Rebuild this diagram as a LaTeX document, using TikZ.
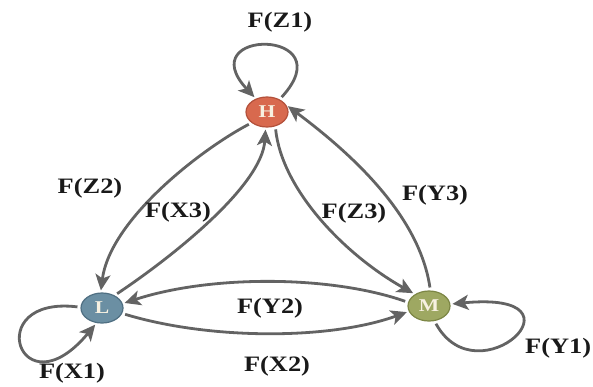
\documentclass[tikz,border=0pt]{standalone}
\usepackage{fontspec}
\setmainfont{Liberation Serif}
\usetikzlibrary{shapes.geometric,arrows.meta}

\definecolor{edgegray}{HTML}{636363}
\definecolor{hfill}{HTML}{D8694E}
\definecolor{hdraw}{HTML}{B3503A}
\definecolor{lfill}{HTML}{6B8FA3}
\definecolor{ldraw}{HTML}{4F6F82}
\definecolor{mfill}{HTML}{9EA862}
\definecolor{mdraw}{HTML}{7C8645}
\definecolor{letter}{HTML}{F7F1E1}

\newcommand{\lbl}[1]{\scalebox{1.2}[1]{\fontsize{22}{22}\selectfont\bfseries #1}}
\newcommand{\ltr}[1]{\scalebox{1.2}[1]{\fontsize{18}{18}\selectfont\bfseries #1}}

\tikzset{
  state/.style={ellipse, minimum width=42pt, minimum height=30pt, inner sep=0pt,
    line width=1.2pt, text=letter},
  flow/.style={draw=edgegray, line width=2.8pt,
    -{Stealth[length=16pt,width=15pt,inset=4pt]}, shorten >=2pt, shorten <=3pt},
  flowlabel/.style={inner sep=0pt, text=black!90}
}

\begin{document}
\begin{tikzpicture}[x=1pt,y=-1pt]
  \useasboundingbox (0,0) rectangle (593,386);

  % states
  \node[state, fill=hfill, draw=hdraw] (H) at (267,112) {\ltr{H}};
  \node[state, fill=lfill, draw=ldraw] (L) at (102,308) {\ltr{L}};
  \node[state, fill=mfill, draw=mdraw] (M) at (429,306) {\ltr{M}};

  % self loops
  \draw[flow] (H.45) .. controls (345,28) and (190,28) .. (H.130);
  \draw[flow] (L.178) .. controls (-20,295) and (20,415) .. (L.250);
  \draw[flow] (M.290) .. controls (478,400) and (595,290) .. (M.5);

  % transitions between H and L
  \draw[flow] (H.215) .. controls (200,150) and (110,220) .. (L.95);
  \draw[flow] (L.45) .. controls (175,255) and (262,185) .. (H.265);

  % transitions between H and M
  \draw[flow] (H.300) .. controls (282,190) and (345,255) .. (M.140);
  \draw[flow] (M.85) .. controls (420,220) and (360,160) .. (H.20);

  % transitions between L and M
  \draw[flow] (M.170) .. controls (330,275) and (210,275) .. (L.12);
  \draw[flow] (L.345) .. controls (210,340) and (330,340) .. (M.195);

  % labels
  \node[flowlabel] (lz1) at (280,22) {\lbl{F(Z1)}};
  \node[flowlabel] (lz2) at (90,188) {\lbl{F(Z2)}};
  \node[flowlabel] (lx3) at (178,212) {\lbl{F(X3)}};
  \node[flowlabel] (lz3) at (354,213) {\lbl{F(Z3)}};
  \node[flowlabel] (ly3) at (435,195) {\lbl{F(Y3)}};
  \node[flowlabel] (ly2) at (270,308) {\lbl{F(Y2)}};
  \node[flowlabel] (lx2) at (277,366) {\lbl{F(X2)}};
  \node[flowlabel] (lx1) at (72,373) {\lbl{F(X1)}};
  \node[flowlabel, anchor=west] (ly1) at (525,348) {\lbl{F(Y1)}};
\end{tikzpicture}
\end{document}
